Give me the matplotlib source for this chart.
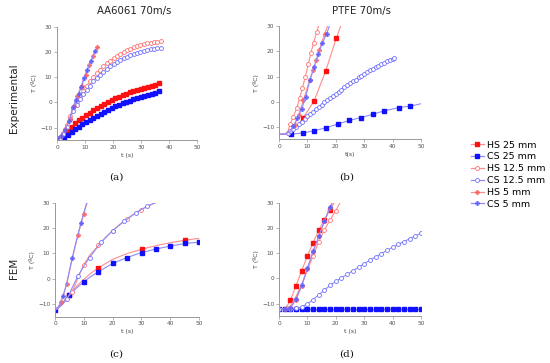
import matplotlib
matplotlib.use("Agg")
import matplotlib.pyplot as plt
from matplotlib.lines import Line2D

# ---------------- data ----------------
series_names = ["HS 25 mm", "CS 25 mm", "HS 12.5 mm", "CS 12.5 mm", "HS 5 mm", "CS 5 mm"]

# (a) AA6061 experimental
a_t25 = [2.6, 3.9, 5.2, 6.5, 7.8, 9.1, 10.4, 11.7, 13.0, 14.3, 15.6, 16.9, 18.2, 19.5,
         20.8, 22.1, 23.4, 24.7, 26.0, 27.3, 28.6, 29.9, 31.2, 32.5, 33.8, 35.1, 36.4]
a_hs25 = [-12.6, -11.2, -9.6, -8.3, -7.1, -6.0, -5.0, -4.0, -3.1, -2.2, -1.4, -0.6, 0.2, 0.9,
          1.6, 2.2, 2.8, 3.4, 4.0, 4.5, 5.0, 5.5, 5.9, 6.3, 6.7, 7.1, 7.6]
a_cs25 = [-14.0, -13.0, -11.8, -10.6, -9.6, -8.7, -7.8, -6.9, -6.0, -5.2, -4.4, -3.6, -2.9, -2.2,
          -1.6, -1.0, -0.4, 0.2, 0.7, 1.2, 1.7, 2.2, 2.7, 3.1, 3.5, 3.9, 4.5]
a_t12 = [1.0, 2.2, 3.4, 4.6, 5.8, 7.0, 8.2, 9.4, 10.6, 11.8, 13.0, 14.2, 15.4, 16.6, 17.8, 19.0,
         20.2, 21.4, 22.6, 23.8, 25.0, 26.2, 27.4, 28.6, 29.8, 31.0, 32.2, 33.4, 34.6, 35.8, 37.0]
a_hs12 = [-14.0, -12.3, -9.0, -5.5, -2.3, 0.3, 2.6, 4.7, 6.7, 8.5, 10.1, 11.6, 13.0, 14.3, 15.5, 16.6,
          17.6, 18.5, 19.3, 20.0, 20.7, 21.3, 21.8, 22.3, 22.7, 23.1, 23.4, 23.7, 23.9, 24.1, 24.2]
a_cs12 = [-14.2, -12.6, -9.8, -6.5, -3.5, -1.0, 1.2, 3.2, 5.0, 6.7, 8.3, 9.7, 11.0, 12.2, 13.3, 14.3,
          15.2, 16.0, 16.8, 17.5, 18.1, 18.7, 19.2, 19.7, 20.1, 20.5, 20.8, 21.1, 21.3, 21.5, 21.6]
a_t_hs5 = [0, 1.5, 3.0, 4.5, 6.0, 7.2, 8.9, 10.2, 11.4, 13.0, 14.3]
a_hs5 = [-14.2, -13.2, -10.6, -6.5, -1.3, 2.6, 6.6, 10.8, 14.9, 18.5, 21.8]
a_t_cs5 = [0, 1.4, 2.8, 4.3, 5.7, 6.8, 7.7, 8.6, 9.5, 10.8, 12.1, 13.7]
a_cs5 = [-14.2, -13.3, -11.0, -7.3, -2.0, 1.1, 3.3, 6.2, 9.5, 13.0, 16.5, 20.5]

# (b) PTFE experimental
b_t_hs25 = [0, 2, 4, 6, 8.4, 12.4, 16.5, 20.2, 22.5]
b_hs25 = [-13.0, -12.9, -12.5, -10.0, -6.6, 0.4, 12.4, 25.3, 32.5]
b_t_cs25 = [0, 2, 4.3, 8.5, 12.4, 16.4, 20.6, 24.8, 28.8, 33.0, 37.1, 42.3, 46.3, 50]
b_cs25 = [-12.8, -12.8, -12.9, -12.4, -11.5, -10.4, -8.9, -7.4, -6.3, -5.0, -3.6, -2.3, -1.7, -0.8]
b_t_hs12 = [0, 1.5, 3.0, 3.9, 5.0, 6.3, 7.3, 8.2, 9.3, 10.3, 11.2, 12.2, 13.3, 14.6]
b_hs12 = [-13.0, -12.9, -12.3, -9.0, -6.0, -2.4, 1.5, 5.3, 10.0, 14.8, 19.2, 23.5, 27.8, 32.5]
b_t_cs12 = [3, 4, 5, 6, 7, 8, 9, 10, 11, 12, 13, 14, 15, 16, 17, 18, 19, 20, 21, 22, 23, 24, 25,
            26, 27, 28, 29, 30, 31, 32, 33, 34, 35, 36, 37, 38, 39, 40, 40.6]
b_cs12 = [-12.5, -11.8, -10.8, -9.9, -8.9, -7.9, -6.9, -5.8, -4.8, -3.9, -3.0, -2.1, -1.2, -0.3,
          0.6, 1.5, 2.3, 3.1, 4.0, 4.8, 5.7, 6.5, 7.3, 8.2, 8.8, 9.7, 10.2, 11.1, 11.7, 12.8, 13.1,
          13.9, 14.2, 15.0, 15.3, 16.0, 16.4, 17.1, 17.4]
b_t_hs5 = [0, 2, 4, 5.5, 6.9, 8.6, 10.8, 12.0, 13.2, 14.1, 16.1, 17.6]
b_hs5 = [-13.0, -12.8, -11.8, -9.3, -5.3, 0.7, 8.6, 12.6, 16.7, 20.4, 27.1, 31.5]
b_t_cs5 = [0, 2, 4, 5.1, 6.4, 8.0, 9.4, 10.9, 12.4, 13.8, 15.3, 16.8, 18.0]
b_cs5 = [-13.0, -12.8, -12.0, -9.6, -6.6, -2.9, 2.0, 8.6, 13.9, 18.9, 23.4, 27.1, 31.0]

# (c) AA6061 FEM
c_t_hs25 = [0, 2.5, 5, 7.5, 10, 12.5, 15.1, 20, 25, 30.1, 35, 40, 45.3, 50]
c_hs25 = [-12.4, -9.6, -6.3, -3.0, -0.3, 2.2, 4.3, 7.6, 9.9, 11.6, 13.0, 14.2, 15.2, 15.9]
c_t_cs25 = [0, 2.5, 4.9, 7.5, 9.9, 12.5, 15.1, 20, 24.9, 30.1, 35.1, 40.1, 45.3, 50]
c_cs25 = [-12.4, -9.7, -6.5, -3.7, -1.3, 0.9, 2.7, 6.0, 8.3, 10.3, 11.7, 12.9, 13.9, 14.4]
c_t_hs12 = [0, 1, 2.5, 4, 5.9, 7.9, 9.9, 12, 15.1, 17.5, 20, 22.5, 24.9, 27.5, 30, 32.5, 35.5]
c_hs12 = [-12.4, -11.8, -10.2, -8.0, -5.3, 0.0, 5.3, 9.2, 13.1, 16.3, 18.9, 21.5, 23.6, 25.6,
          27.3, 28.7, 30.4]
c_t_cs12 = [0, 1, 2.5, 4.3, 6, 7.9, 10, 12, 14, 16, 18, 20, 22, 24.1, 26, 28.1, 30, 32.1, 34, 36.5]
c_cs12 = [-12.4, -11.8, -10.3, -8.0, -3.5, 0.9, 5.0, 8.3, 11.4, 14.3, 16.7, 18.9, 20.8, 22.7,
          24.3, 25.9, 27.3, 28.7, 29.6, 30.6]
c_t_hs5 = [0, 1, 2, 3, 4, 6, 8, 10, 12.5]
c_hs5 = [-12.4, -11.6, -9.3, -6.3, -2.3, 7.8, 17.3, 25.6, 35.0]
c_t_cs5 = [0, 1, 2, 2.8, 4, 5.9, 7.5, 9, 10.5, 12]
c_cs5 = [-12.4, -11.6, -9.3, -6.7, -2.3, 8.0, 15.4, 22.0, 28.0, 33.5]

# (d) PTFE FEM
d_t_hs25 = [0, 2.3, 4, 6, 8, 10, 12, 14, 16, 18, 20]
d_hs25 = [-12.0, -12.0, -8.7, -2.9, 3.1, 8.9, 14.2, 19.0, 23.3, 27.3, 31.0]
d_t_cs25 = [0, 2, 4, 6, 8, 10, 12, 14, 16, 18, 20, 22, 24, 26, 28, 30, 32, 34, 36, 38, 40, 42,
            44, 46, 48, 50]
d_cs25 = [-12.1, -12.1, -12.1, -12.1, -12.1, -12.1, -12.1, -12.1, -12.1, -12.1, -12.1, -12.1,
          -12.1, -12.1, -12.1, -12.1, -12.1, -12.1, -12.1, -12.1, -12.1, -12.1, -12.1, -12.1,
          -12.1, -12.1]
d_t_hs12 = [0, 2, 4, 6, 8, 10, 12, 14, 16, 18, 20, 21.6]
d_hs12 = [-12.0, -12.0, -11.0, -7.2, -2.4, 3.2, 8.9, 14.5, 19.2, 23.2, 26.9, 30.2]
d_t_cs12 = [0, 2, 4, 6, 8, 10, 12, 14, 16, 18, 20, 22, 24, 26, 28, 30, 32, 34, 36, 38, 40, 42,
            44, 46, 48, 50]
d_cs12 = [-12.0, -12.0, -12.0, -11.9, -11.3, -10.1, -8.4, -6.5, -4.6, -2.8, -1.2, 0.2, 1.6, 3.0,
          4.4, 5.8, 7.2, 8.5, 9.8, 11.1, 12.3, 13.5, 14.6, 15.7, 16.8, 17.9]
d_t_5 = [0, 2, 4, 6, 8, 10, 12, 14, 16, 18, 19.6]
d_hs5 = [-12.0, -12.0, -11.7, -8.4, -2.9, 3.8, 10.5, 16.6, 22.6, 28.0, 32.0]
d_cs5 = [-12.0, -12.0, -11.6, -8.3, -2.8, 4.0, 10.7, 16.8, 22.8, 28.3, 32.3]

# ---------------- styles ----------------
RED_L, BLUE_L = "#ff8c8c", "#8c8cff"
RED_M, BLUE_M = "#ff1010", "#1010ff"

styles = {
    "HS 25 mm": dict(color=RED_L, marker="s", mfc=RED_M, mec=RED_M, ms=2.5),
    "CS 25 mm": dict(color=BLUE_L, marker="s", mfc=BLUE_M, mec=BLUE_M, ms=2.5),
    "HS 12.5 mm": dict(color=RED_L, marker="o", mfc="white", mec="#ff7070", ms=2.8, mew=0.6),
    "CS 12.5 mm": dict(color=BLUE_L, marker="o", mfc="white", mec="#7070ff", ms=2.8, mew=0.6),
    "HS 5 mm": dict(color=RED_L, marker="P", mfc="#ff6060", mec="#ff6060", ms=3.4, mew=0.2),
    "CS 5 mm": dict(color=BLUE_L, marker="P", mfc="#6060ff", mec="#6060ff", ms=3.4, mew=0.2),
}


def draw(ax, name, t, T, every=None, lw=0.8):
    ax.plot(t, T, lw=lw, markevery=every, clip_on=True, **styles[name])


fig = plt.figure(figsize=(5.5, 3.63), dpi=100)
W, H = 550.0, 363.0


def make_axes(x0, x1, ytop, ybot, xlab):
    ax = fig.add_axes([x0 / W, 1 - ybot / H, (x1 - x0) / W, (ybot - ytop) / H])
    ax.set_xlim(0, 50)
    ax.set_ylim(-15, 30)
    ax.set_xticks([0, 10, 20, 30, 40, 50])
    ax.set_yticks([-10, 0, 10, 20, 30])
    for s in ["top", "right"]:
        ax.spines[s].set_visible(False)
    for s in ["left", "bottom"]:
        ax.spines[s].set_color("#999999")
        ax.spines[s].set_linewidth(0.7)
    ax.tick_params(direction="out", length=2, width=0.5, colors="#999999",
                   labelsize=4.2, labelcolor="#555555", pad=1.5)
    ax.set_xlabel(xlab, fontsize=4.5, color="#444444", labelpad=2)
    ax.set_ylabel("T (ºC)", fontsize=4.5, color="#444444", labelpad=2)
    return ax


ax_a = make_axes(57, 197, 26.7, 140.3, "t (s)")
ax_b = make_axes(279, 421, 26.2, 139.5, "t(s)")
ax_c = make_axes(55, 199, 202.7, 316.6, "t (s)")
ax_d = make_axes(279, 421, 202.7, 316.2, "t (s)")

# (a)
draw(ax_a, "HS 25 mm", a_t25, a_hs25, lw=0.4)
draw(ax_a, "CS 25 mm", a_t25, a_cs25, lw=0.4)
draw(ax_a, "HS 12.5 mm", a_t12, a_hs12, lw=0.6)
draw(ax_a, "CS 12.5 mm", a_t12, a_cs12, lw=0.6)
draw(ax_a, "HS 5 mm", a_t_hs5, a_hs5)
draw(ax_a, "CS 5 mm", a_t_cs5, a_cs5)

# (b)
draw(ax_b, "HS 25 mm", b_t_hs25, b_hs25, every=[2, 4, 5, 6, 7])
draw(ax_b, "CS 25 mm", b_t_cs25, b_cs25, every=list(range(2, 13)))
draw(ax_b, "HS 12.5 mm", b_t_hs12, b_hs12, every=list(range(2, 13)))
draw(ax_b, "CS 12.5 mm", b_t_cs12, b_cs12)
draw(ax_b, "HS 5 mm", b_t_hs5, b_hs5, every=list(range(3, 11)))
draw(ax_b, "CS 5 mm", b_t_cs5, b_cs5, every=list(range(3, 12)))

# (c)
draw(ax_c, "HS 25 mm", c_t_hs25, c_hs25, every=[2, 6, 9, 12])
draw(ax_c, "CS 25 mm", c_t_cs25, c_cs25, every=[0, 2, 4, 6, 7, 8, 9, 10, 11, 12, 13])
draw(ax_c, "HS 12.5 mm", c_t_hs12, c_hs12, every=[4, 6, 8, 10, 12, 14])
draw(ax_c, "CS 12.5 mm", c_t_cs12, c_cs12, every=[3, 5, 7, 9, 11, 13, 15, 17])
draw(ax_c, "HS 5 mm", c_t_hs5, c_hs5, every=[2, 4, 6, 7])
draw(ax_c, "CS 5 mm", c_t_cs5, c_cs5, every=[3, 5, 7])

# (d)
draw(ax_d, "HS 25 mm", d_t_hs25, d_hs25, every=list(range(2, 10)))
draw(ax_d, "CS 25 mm", d_t_cs25, d_cs25)
draw(ax_d, "HS 12.5 mm", d_t_hs12, d_hs12, every=[6, 7, 8, 9, 10])
draw(ax_d, "CS 12.5 mm", d_t_cs12, d_cs12)
draw(ax_d, "HS 5 mm", d_t_5, d_hs5, every=list(range(1, 10)))
draw(ax_d, "CS 5 mm", d_t_5, d_cs5, every=list(range(1, 10)))

# titles and panel labels
fig.text(134 / W, 1 - 11 / H, "AA6061 70m/s", ha="center", va="center", fontsize=7.3, color="#222222")
fig.text(361 / W, 1 - 11 / H, "PTFE 70m/s", ha="center", va="center", fontsize=7.3, color="#222222")
fig.text(14 / W, 1 - 98 / H, "Experimental", ha="center", va="center", rotation=90,
         fontsize=7.5, color="#222222")
fig.text(14 / W, 1 - 268 / H, "FEM", ha="center", va="center", rotation=90,
         fontsize=7.5, color="#222222")
for lab, x, y in [("(a)", 116, 177), ("(b)", 347, 177), ("(c)", 116, 354), ("(d)", 347, 354)]:
    fig.text(x / W, 1 - y / H, lab, ha="center", va="center", fontsize=7.5,
             family="DejaVu Serif", color="#111111")

# legend
handles = [Line2D([0], [0], lw=0.9, **styles[n]) for n in series_names]
fig.legend(handles, series_names, loc="upper left", bbox_to_anchor=(464 / W, 1 - 134 / H),
           frameon=False, fontsize=6.8, handlelength=1.4, handletextpad=0.3,
           labelspacing=0.3, borderpad=0.2)

fig.savefig("out.png", dpi=100)
